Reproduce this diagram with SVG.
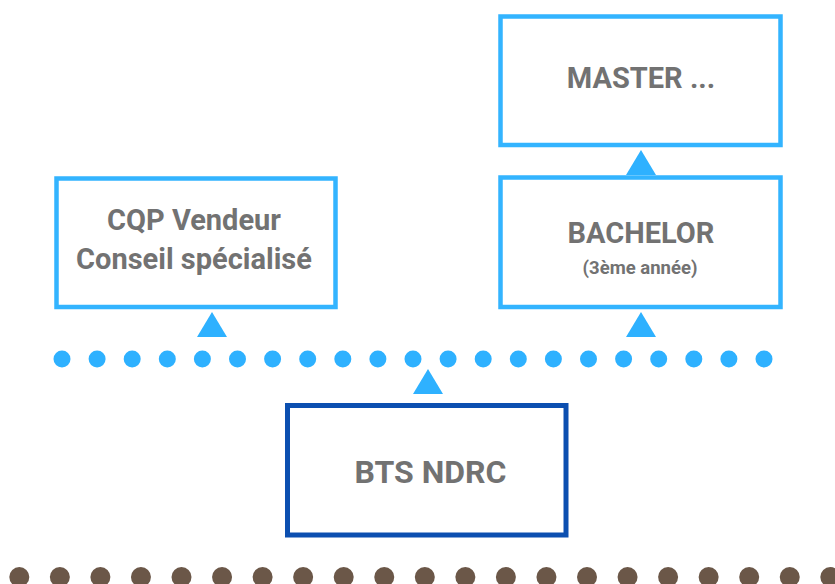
<svg xmlns="http://www.w3.org/2000/svg" width="835" height="584" viewBox="0 0 835 584">
<style>
.box{fill:#fff;stroke:#33b4ff;stroke-width:4.5}
.dark{fill:#fff;stroke:#0c4fb0;stroke-width:5}
.t{font-family:Roboto,"Liberation Sans",sans-serif;font-weight:bold;fill:#727272;text-anchor:middle}
.big{font-size:29px}
.bts{font-size:32px}
.small{font-size:18.5px}
.arr{fill:#2eb1ff}
.bd{fill:#2eb1ff}
.br{fill:#6b5748}
</style>
<rect x="0" y="0" width="835" height="584" fill="#fff"/>
<g id="connectors">
<polygon class="arr" points="641,150 626,175 656,175"/>
<polygon class="arr" points="641,312 626,337 656,337"/>
<polygon class="arr" points="212,312 197,337 227,337"/>
<polygon class="arr" points="428,369 413,394 443,394"/>
<g id="blue-dots">
<circle class="bd" cx="62" cy="359" r="8.5"/><circle class="bd" cx="97.1" cy="359" r="8.5"/><circle class="bd" cx="132.2" cy="359" r="8.5"/><circle class="bd" cx="167.3" cy="359" r="8.5"/><circle class="bd" cx="202.4" cy="359" r="8.5"/><circle class="bd" cx="237.5" cy="359" r="8.5"/><circle class="bd" cx="272.6" cy="359" r="8.5"/><circle class="bd" cx="307.7" cy="359" r="8.5"/><circle class="bd" cx="342.8" cy="359" r="8.5"/><circle class="bd" cx="377.9" cy="359" r="8.5"/><circle class="bd" cx="413" cy="359" r="8.5"/><circle class="bd" cx="448.1" cy="359" r="8.5"/><circle class="bd" cx="483.2" cy="359" r="8.5"/><circle class="bd" cx="518.3" cy="359" r="8.5"/><circle class="bd" cx="553.4" cy="359" r="8.5"/><circle class="bd" cx="588.5" cy="359" r="8.5"/><circle class="bd" cx="623.6" cy="359" r="8.5"/><circle class="bd" cx="658.7" cy="359" r="8.5"/><circle class="bd" cx="693.8" cy="359" r="8.5"/><circle class="bd" cx="728.9" cy="359" r="8.5"/><circle class="bd" cx="764" cy="359" r="8.5"/>
</g>
<g id="brown-dots">
<circle class="br" cx="19.3" cy="577" r="10"/><circle class="br" cx="59.85" cy="577" r="10"/><circle class="br" cx="100.4" cy="577" r="10"/><circle class="br" cx="140.95" cy="577" r="10"/><circle class="br" cx="181.5" cy="577" r="10"/><circle class="br" cx="222.05" cy="577" r="10"/><circle class="br" cx="262.6" cy="577" r="10"/><circle class="br" cx="303.15" cy="577" r="10"/><circle class="br" cx="343.7" cy="577" r="10"/><circle class="br" cx="384.25" cy="577" r="10"/><circle class="br" cx="424.8" cy="577" r="10"/><circle class="br" cx="465.35" cy="577" r="10"/><circle class="br" cx="505.9" cy="577" r="10"/><circle class="br" cx="546.45" cy="577" r="10"/><circle class="br" cx="587" cy="577" r="10"/><circle class="br" cx="627.55" cy="577" r="10"/><circle class="br" cx="668.1" cy="577" r="10"/><circle class="br" cx="708.65" cy="577" r="10"/><circle class="br" cx="749.2" cy="577" r="10"/><circle class="br" cx="789.75" cy="577" r="10"/><circle class="br" cx="830.3" cy="577" r="10"/>
</g>
</g>
<g id="master">
<rect class="box" x="500.5" y="16.5" width="280" height="128.5"/>
<text class="t big" x="641" y="88">MASTER ...</text>
</g>
<g id="bachelor">
<rect class="box" x="500.5" y="177.5" width="280" height="129.5"/>
<text class="t big" x="641" y="243">BACHELOR</text>
<text class="t small" x="640" y="274">(3ème année)</text>
</g>
<g id="cqp">
<rect class="box" x="56.5" y="178.5" width="279" height="128.5"/>
<text class="t big" x="194" y="230">CQP Vendeur</text>
<text class="t big" x="194" y="269">Conseil spécialisé</text>
</g>
<g id="bts">
<rect class="dark" x="287.5" y="405.5" width="278.5" height="129.5"/>
<text class="t bts" x="430.5" y="483">BTS NDRC</text>
</g>
</svg>
